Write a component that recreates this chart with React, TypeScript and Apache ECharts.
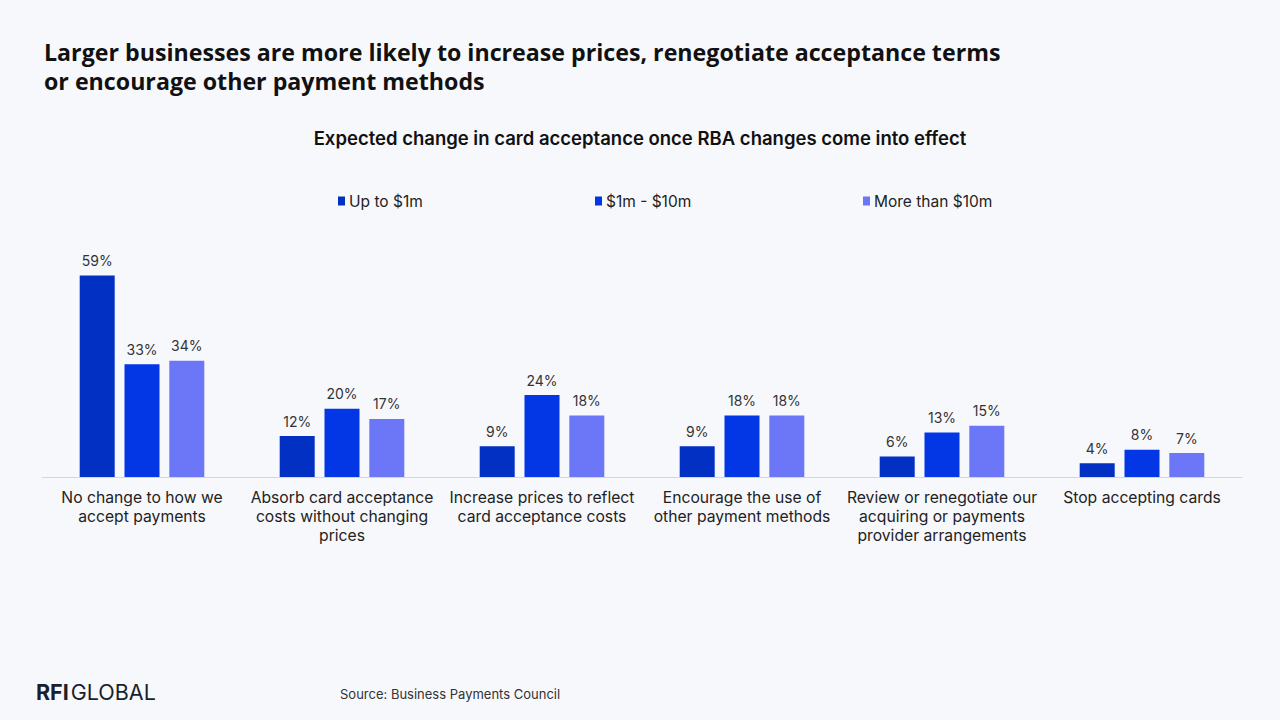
import React, { useEffect, useRef } from "react";
import * as echarts from "echarts";

const categories = [
  "No change to how we\naccept payments",
  "Absorb card acceptance\ncosts without changing\nprices",
  "Increase prices to reflect\ncard acceptance costs",
  "Encourage the use of\nother payment methods",
  "Review or renegotiate our\nacquiring or payments\nprovider arrangements",
  "Stop accepting cards",
];

const seriesNames = ["Up to $1m", "$1m - $10m", "More than $10m"];
const upTo1m = [59, 12, 9, 9, 6, 4];
const oneTo10m = [33, 20, 24, 18, 13, 8];
const over10m = [34, 17, 18, 18, 15, 7];
const colors = ["#0230C2", "#0337E6", "#6B77F7"];

const BG = "#F7F8FC";
const FONT = "Inter, 'Open Sans', sans-serif";

export default function App() {
  const ref = useRef<HTMLDivElement>(null);

  useEffect(() => {
    if (!ref.current) return;
    document.body.style.background = BG;
    const chart = echarts.init(ref.current, null, { renderer: "svg" });
    const values = [upTo1m, oneTo10m, over10m];
    const legendX = [338, 595, 863];

    chart.setOption({
      animation: false,
      backgroundColor: BG,
      textStyle: { fontFamily: FONT },
      title: [
        {
          text: "Larger businesses are more likely to increase prices, renegotiate acceptance terms\nor encourage other payment methods",
          left: 39,
          top: 32,
          textStyle: {
            fontFamily: "'Open Sans', sans-serif",
            fontWeight: "bold",
            fontSize: 23.2,
            lineHeight: 29,
            color: "#111111",
          },
        },
        {
          text: "Expected change in card acceptance once RBA changes come into effect",
          left: "center",
          top: 123,
          textStyle: {
            fontFamily: FONT,
            fontWeight: 600,
            fontSize: 18.5,
            color: "#111111",
          },
        },
        {
          text: "Source: Business Payments Council",
          left: 335,
          top: 682,
          textStyle: { fontFamily: FONT, fontWeight: "normal", fontSize: 13, color: "#333333" },
        },
      ],
      graphic: [
        {
          type: "text",
          left: 36,
          top: 681,
          style: {
            text: "{b|RFI}{n|GLOBAL}",
            rich: {
              b: { fontFamily: FONT, fontWeight: "bold", fontSize: 21.5, fill: "#1A1F2B" },
              n: { fontFamily: FONT, fontWeight: "normal", fontSize: 21.5, fill: "#1A1F2B", padding: [0, 0, 0, 2] },
            },
          },
        },
      ],
      legend: seriesNames.map((name, i) => ({
        data: [name],
        left: legendX[i],
        top: 193,
        padding: 0,
        icon: "rect",
        itemWidth: 7,
        itemHeight: 9,
        itemGap: 0,
        textStyle: { fontFamily: FONT, fontSize: 15.5, color: "#222222", padding: [0, 0, 0, -1] },
      })),
      grid: { left: 42, right: 38, top: 272, bottom: 243, containLabel: false },
      xAxis: {
        type: "category",
        data: categories,
        axisLine: { lineStyle: { color: "#D3D6DE", width: 1 } },
        axisTick: { show: false },
        axisLabel: {
          interval: 0,
          margin: 11,
          fontFamily: FONT,
          fontSize: 15.7,
          lineHeight: 19,
          color: "#222222",
        },
      },
      yAxis: {
        type: "value",
        min: 0,
        max: 60,
        show: false,
        splitLine: { show: false },
      },
      series: seriesNames.map((name, i) => ({
        name,
        type: "bar",
        data: values[i],
        barWidth: 35,
        barGap: "28%",
        itemStyle: { color: colors[i] },
        label: {
          show: true,
          position: "top",
          distance: 8,
          formatter: "{c}%",
          fontFamily: FONT,
          fontSize: 14,
          color: "#333333",
        },
      })),
    });

    return () => chart.dispose();
  }, []);

  return (
    <div
      ref={ref}
      style={{ position: "fixed", left: 0, top: 0, width: 1280, height: 720, background: BG }}
    />
  );
}
